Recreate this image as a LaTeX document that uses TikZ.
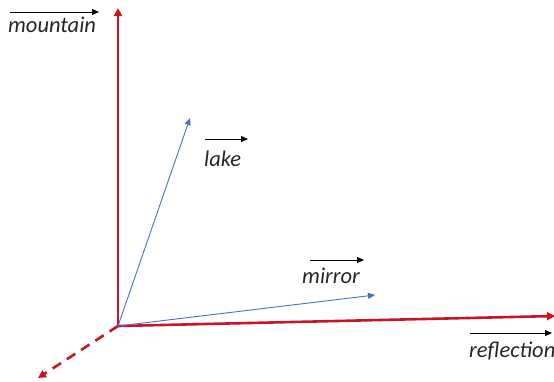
\documentclass[tikz,border=0pt]{standalone}
\usepackage{fontspec}
\setmainfont{Carlito}
\usetikzlibrary{arrows.meta}
\definecolor{axred}{RGB}{200,20,35}
\definecolor{vblue}{RGB}{68,114,196}
\tikzset{
  axis/.style={draw=axred, line width=2.6pt, -{Triangle[length=8pt,width=8pt]}},
  vec/.style={draw=vblue, line width=0.9pt, -{Triangle[length=7pt,width=6pt]}},
  lbl/.style={font=\itshape\fontsize{22.5}{25}\selectfont, text=black!85, inner sep=0pt, anchor=west},
  over/.style={draw=black, line width=1pt, -{Triangle[length=7pt,width=6pt]}}
}
\begin{document}
\begin{tikzpicture}[x=1pt,y=-1pt]
\useasboundingbox (0,0) rectangle (554,381);
\coordinate (O) at (118,326);
\coordinate (Up) at (118,8);
\coordinate (Rt) at (555,316);
\coordinate (Dn) at (38,378);
\coordinate (L) at (190,118);
\coordinate (M) at (375,295);
\draw[axis] (O) -- (Up);
\draw[axis] (O) -- (Rt);
\draw[axis, dashed, dash pattern=on 10pt off 7pt] (O) -- (Dn);
\draw[vec] (O) -- (L);
\draw[vec] (O) -- (M);
\node[lbl] (tm) at (8,25) {mountain};
\node[lbl] (tl) at (204,159) {lake};
\node[lbl] (tr) at (302,276) {mirror};
\node[lbl] (tf) at (469,351) {reflection};
\coordinate (am1) at (10,12); \coordinate (am2) at (99,12);
\coordinate (al1) at (205,139); \coordinate (al2) at (248,139);
\coordinate (ar1) at (310,260); \coordinate (ar2) at (364,260);
\coordinate (af1) at (470,333); \coordinate (af2) at (552,333);
\draw[over] (am1) -- (am2);
\draw[over] (al1) -- (al2);
\draw[over] (ar1) -- (ar2);
\draw[over] (af1) -- (af2);
\end{tikzpicture}
\end{document}
